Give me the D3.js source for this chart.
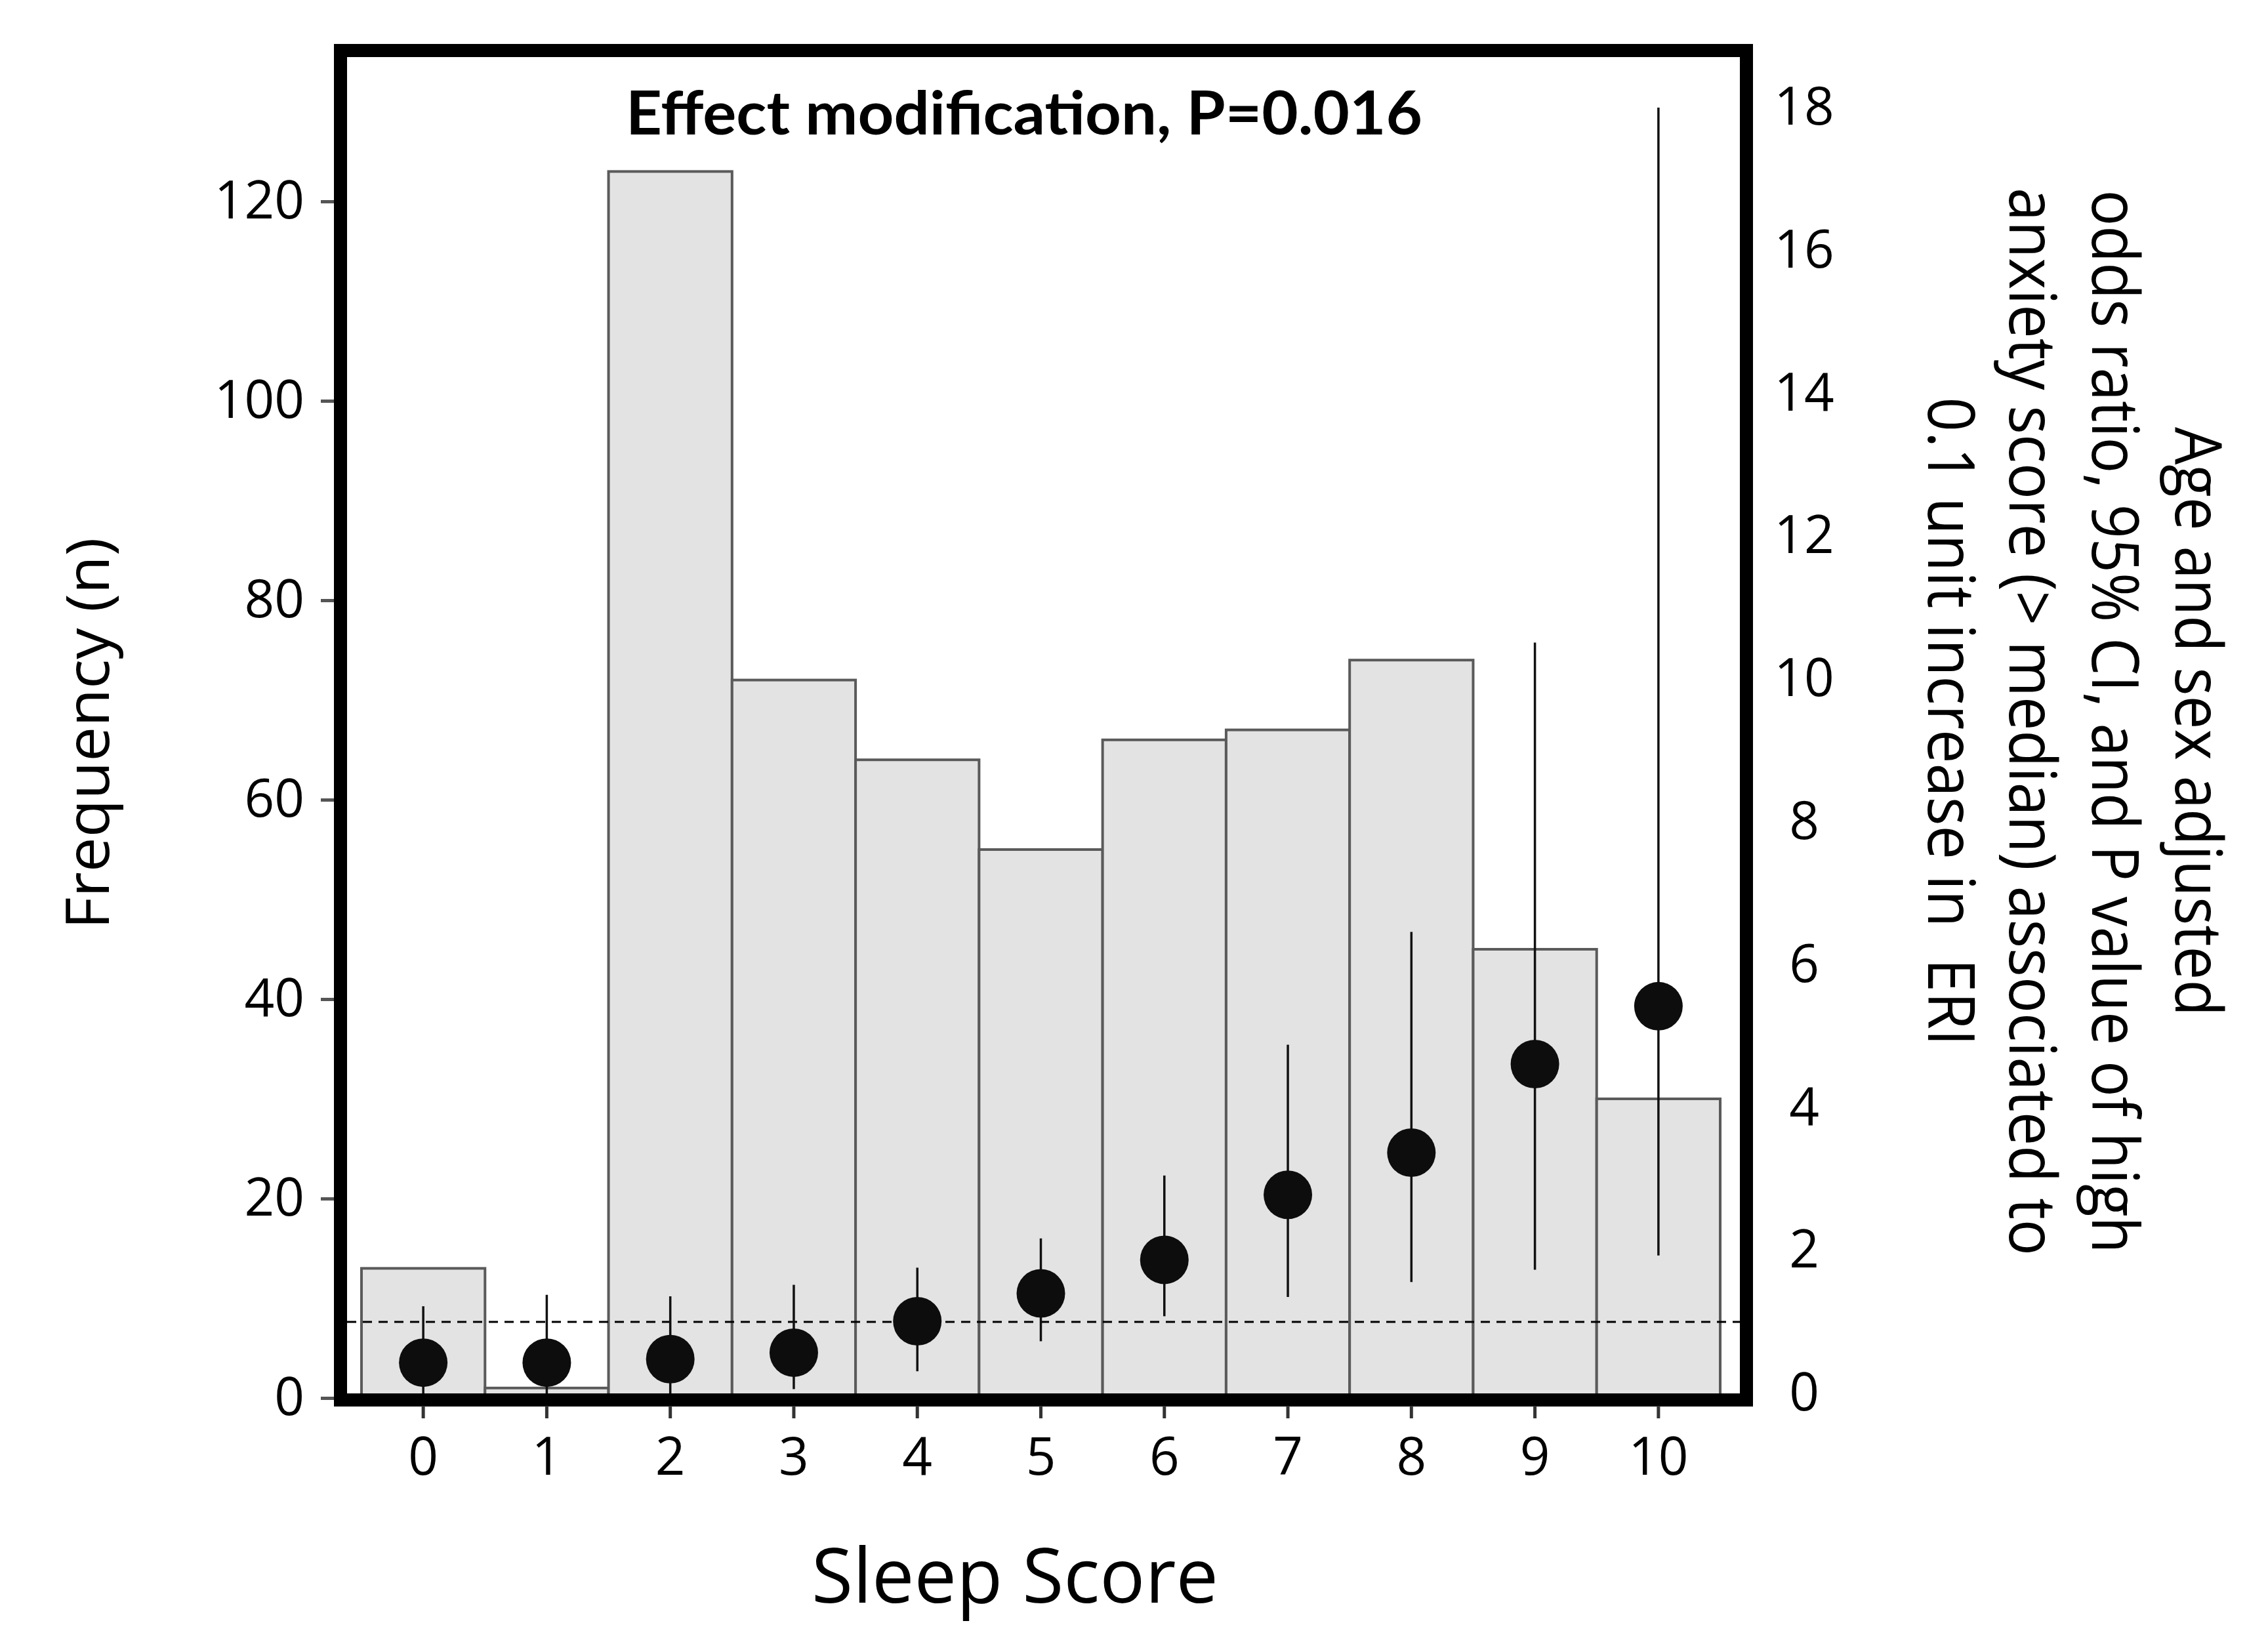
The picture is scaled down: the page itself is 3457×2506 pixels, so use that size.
<!DOCTYPE html>
<html>
<head>
<meta charset="utf-8">
<script src="https://cdn.jsdelivr.net/npm/d3@7"></script>
<style>
  body { margin: 0; background: #fff; }
  svg { display: block; }
</style>
</head>
<body>
<svg id="chart" width="3457" height="2506"></svg>
<script>
// sleep score categories and values
var scores = [0, 1, 2, 3, 4, 5, 6, 7, 8, 9, 10];
var freq = [13, 1, 123, 72, 64, 55, 66, 67, 74, 45, 30];
var oddsRatio = [0.43, 0.43, 0.48, 0.57, 1.01, 1.40, 1.87, 2.78, 3.37, 4.61, 5.42];
var ciLow = [0, 0, 0, 0.06, 0.31, 0.73, 1.08, 1.35, 1.56, 1.73, 1.93];
var ciHigh = [1.22, 1.38, 1.36, 1.52, 1.76, 2.17, 3.05, 4.88, 6.46, 10.51, 18.0];
var freqTicks = [0, 20, 40, 60, 80, 100, 120];
var orTicks = [0, 2, 4, 6, 8, 10, 12, 14, 16, 18];

var titleText = "Effect modification, P=0.016";
var xTitle = "Sleep Score";
var yTitle = "Frequency (n)";
var y2Title = ["Age and sex adjusted",
    "odds ratio, 95% CI, and P value of high",
    "anxiety score (> median) associated to",
    "0.1 unit increase in  ERI"];

var frame = { left: 529, top: 87, right: 2652, bottom: 2124, stroke: 20 };

var svg = d3.select("#chart");

var x = d3.scaleBand()
    .domain(scores)
    .range([551, 2622])
    .padding(0);

var y = d3.scaleLinear()
    .domain([0, 120])
    .range([2131, 307]);

var y2 = d3.scaleLinear()
    .domain([0, 18])
    .range([2124, 164]);

// histogram bars
svg.append("g")
    .selectAll("rect")
    .data(freq)
    .enter()
    .append("rect")
    .attr("x", function (d, i) { return x(scores[i]); })
    .attr("y", function (d) { return y(d); })
    .attr("width", x.bandwidth())
    .attr("height", function (d) { return y(0) - y(d); })
    .attr("fill", "#e3e3e3")
    .attr("stroke", "#5a5a5a")
    .attr("stroke-width", 4);

// reference line at OR = 1
svg.append("line")
    .attr("x1", frame.left)
    .attr("x2", frame.right)
    .attr("y1", y2(1))
    .attr("y2", y2(1))
    .attr("stroke", "#000")
    .attr("stroke-width", 3)
    .attr("stroke-dasharray", "14,10");

// confidence intervals
svg.append("g")
    .selectAll("line")
    .data(scores)
    .enter()
    .append("line")
    .attr("x1", function (d) { return x(d) + x.bandwidth() / 2; })
    .attr("x2", function (d) { return x(d) + x.bandwidth() / 2; })
    .attr("y1", function (d, i) { return y2(ciLow[i]); })
    .attr("y2", function (d, i) { return y2(ciHigh[i]); })
    .attr("stroke", "#111")
    .attr("stroke-width", 3.5);

// point estimates
svg.append("g")
    .selectAll("circle")
    .data(oddsRatio)
    .enter()
    .append("circle")
    .attr("cx", function (d, i) { return x(scores[i]) + x.bandwidth() / 2; })
    .attr("cy", function (d) { return y2(d); })
    .attr("r", 37)
    .attr("fill", "#0d0d0d");

// heavy frame
svg.append("rect")
    .attr("x", frame.left - frame.stroke / 2)
    .attr("y", frame.top - frame.stroke / 2)
    .attr("width", frame.right - frame.left + frame.stroke)
    .attr("height", frame.bottom - frame.top + frame.stroke)
    .attr("fill", "none")
    .attr("stroke", "#000")
    .attr("stroke-width", frame.stroke);

var tickFont = "'Open Sans', 'DejaVu Sans', sans-serif";

// left axis
var gy = svg.append("g")
    .attr("transform", "translate(" + (frame.left - frame.stroke) + ",0)")
    .call(d3.axisLeft(y).tickValues(freqTicks).tickSize(20).tickPadding(25));
gy.select(".domain").remove();
gy.selectAll(".tick line").attr("stroke", "#555").attr("stroke-width", 5);
gy.selectAll(".tick text")
    .attr("font-family", tickFont)
    .attr("font-size", 80)
    .attr("fill", "#000");

// right axis
var gy2 = svg.append("g")
    .attr("transform", "translate(" + (frame.right + frame.stroke) + ",0)")
    .call(d3.axisRight(y2).tickValues(orTicks).tickSize(0));
gy2.select(".domain").remove();
gy2.selectAll(".tick line").remove();
gy2.selectAll(".tick text")
    .attr("x", 78)
    .attr("text-anchor", "middle")
    .attr("font-family", tickFont)
    .attr("font-size", 80)
    .attr("fill", "#000");

// bottom axis
var gx = svg.append("g")
    .attr("transform", "translate(0," + (frame.bottom + frame.stroke - 1) + ")")
    .call(d3.axisBottom(x).tickSize(19));
gx.select(".domain").remove();
gx.selectAll(".tick line").attr("stroke", "#333").attr("stroke-width", 5);
gx.selectAll(".tick text")
    .attr("y", 105)
    .attr("dy", 0)
    .attr("font-family", tickFont)
    .attr("font-size", 80)
    .attr("fill", "#000");

// titles
svg.append("text")
    .attr("x", 1561)
    .attr("y", 205)
    .attr("text-anchor", "middle")
    .attr("font-family", "Lato, 'Open Sans', sans-serif")
    .attr("font-weight", "bold")
    .attr("font-size", 92)
    .attr("textLength", 1214)
    .attr("lengthAdjust", "spacingAndGlyphs")
    .text(titleText);

svg.append("text")
    .attr("x", 1547)
    .attr("y", 2443)
    .attr("text-anchor", "middle")
    .attr("font-family", tickFont)
    .attr("font-size", 115)
    .attr("textLength", 620)
    .attr("lengthAdjust", "spacingAndGlyphs")
    .text(xTitle);

svg.append("text")
    .attr("transform", "translate(166,1118) rotate(-90)")
    .attr("text-anchor", "middle")
    .attr("font-family", tickFont)
    .attr("font-size", 92)
    .attr("textLength", 597)
    .attr("lengthAdjust", "spacingAndGlyphs")
    .text(yTitle);

var y2Base = [3316, 3189, 3063, 2939];
var y2Len = [898, 1621, 1628, 989];
svg.append("g")
    .selectAll("text")
    .data(y2Title)
    .enter()
    .append("text")
    .attr("transform", function (d, i) { return "translate(" + y2Base[i] + ",1100) rotate(90)"; })
    .attr("text-anchor", "middle")
    .attr("font-family", "'Liberation Sans Narrow', 'Open Sans', sans-serif")
    .attr("font-size", 98)
    .attr("textLength", function (d, i) { return y2Len[i]; })
    .attr("lengthAdjust", "spacingAndGlyphs")
    .style("white-space", "pre")
    .text(function (d) { return d; });
</script>
</body>
</html>
